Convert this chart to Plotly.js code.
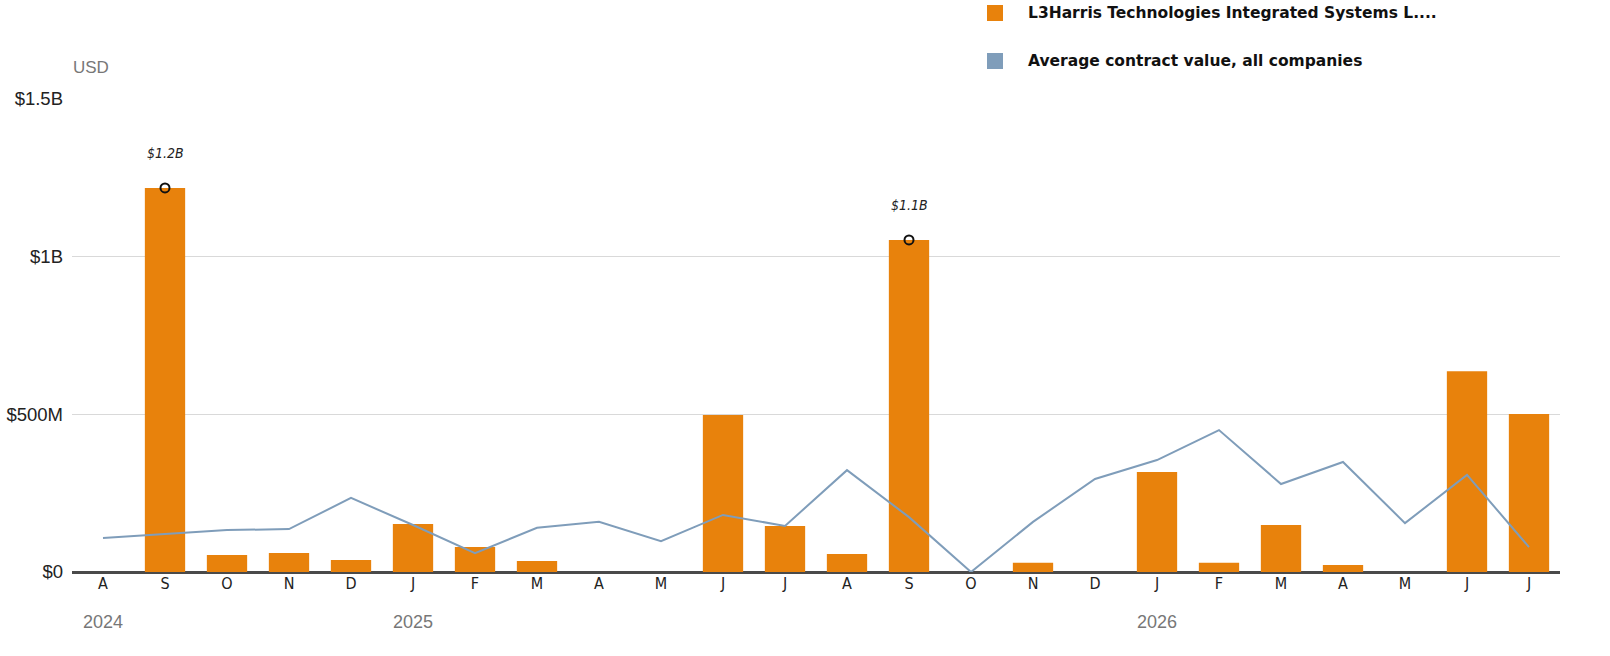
<!DOCTYPE html>
<html>
<head>
<meta charset="utf-8">
<script src="https://cdn.plot.ly/plotly-3.0.1.min.js"></script>
<style>
  body { margin: 0; background: #fff; }
  #plot { width: 1610px; height: 656px; }
</style>
</head>
<body>
<div id="plot"></div>
<script>
// months Aug 2024 .. Jul 2026
var months = ["2024-08","2024-09","2024-10","2024-11","2024-12","2025-01","2025-02","2025-03",
              "2025-04","2025-05","2025-06","2025-07","2025-08","2025-09","2025-10","2025-11",
              "2025-12","2026-01","2026-02","2026-03","2026-04","2026-05","2026-06","2026-07"];
var tickLabels = ["A","S","O","N","D","J","F","M","A","M","J","J","A","S","O","N","D","J","F","M","A","M","J","J"];

// L3Harris contract value per month (USD)
var l3harris = [0, 1218e6, 54e6, 60e6, 38e6, 152e6, 79e6, 35e6, 0, 0, 498e6, 146e6,
                57e6, 1053e6, 0, 29e6, 0, 317e6, 29e6, 149e6, 22e6, 0, 637e6, 501e6];

// average contract value, all companies (USD)
var average = [108e6, 120e6, 133e6, 136e6, 235e6, 149e6, 60e6, 140e6, 159e6, 98e6, 181e6, 146e6,
               323e6, 174e6, 0, 159e6, 295e6, 355e6, 450e6, 279e6, 349e6, 155e6, 308e6, 79e6];

// highlighted months and their labels
var highlightIdx = [1, 13];
var highlightText = ["$1.2B", "$1.1B"];

var yearLabels = ["2024", "2025", "2026"];
var yearIdx = [0, 5, 17];

var idx = months.map((m, i) => i);

var bars = {
  x: idx,
  y: l3harris,
  type: "bar",
  marker: {color: "#E8820C"},
  hoverinfo: "y",
  showlegend: false
};

var line = {
  x: idx,
  y: average,
  type: "scatter",
  mode: "lines",
  line: {color: "#7F9DBA", width: 2},
  showlegend: false
};

var dots = {
  x: highlightIdx,
  y: highlightIdx.map(i => l3harris[i]),
  type: "scatter",
  mode: "markers",
  marker: {symbol: "circle-open", size: 9, color: "#111", line: {width: 2, color: "#111"}},
  showlegend: false
};

var annotations = highlightIdx.map((i, k) => ({
  x: i, y: l3harris[i], xref: "x", yref: "y",
  text: "<i>" + highlightText[k] + "</i>",
  showarrow: false, yshift: 35,
  font: {family: "DejaVu Sans Condensed, sans-serif", size: 14, color: "#222"}
}));

yearIdx.forEach((i, k) => annotations.push({
  x: i, y: 0, xref: "x", yref: "paper",
  text: yearLabels[k], showarrow: false, yshift: -62,
  font: {family: "Liberation Sans, sans-serif", size: 18, color: "#777"}
}));

annotations.push({
  x: 0, y: 1, xref: "paper", yref: "paper", xanchor: "left", yanchor: "bottom",
  text: "USD", showarrow: false, yshift: 20, xshift: -1,
  font: {family: "Liberation Sans, sans-serif", size: 17, color: "#777"}
});

// legend built by hand (squares for both series)
var legendNames = ["L3Harris Technologies Integrated Systems L....", "Average contract value, all companies"];
var legendColors = ["#E8820C", "#7F9DBA"];
var shapes = [];
legendNames.forEach((name, k) => {
  var yc = 13 + k * 48;
  shapes.push({
    type: "rect", xref: "paper", yref: "paper",
    x0: (987 - 72) / 1488, x1: (1003 - 72) / 1488,
    y0: (572 - (yc - 8)) / 473, y1: (572 - (yc + 8)) / 473,
    fillcolor: legendColors[k], line: {width: 0}
  });
  annotations.push({
    x: (1026 - 72) / 1488, y: (572 - yc) / 473, xref: "paper", yref: "paper",
    xanchor: "left", yanchor: "middle", showarrow: false,
    text: "<b>" + name + "</b>",
    font: {family: "DejaVu Sans, sans-serif", size: 15.5, color: "#111"}
  });
});

var layout = {
  width: 1610, height: 656,
  margin: {l: 72, r: 50, t: 99, b: 84},
  paper_bgcolor: "#fff", plot_bgcolor: "#fff",
  bargap: 0.35,
  showlegend: false,
  xaxis: {
    range: [-0.5, 23.5],
    tickvals: idx, ticktext: tickLabels,
    showgrid: false, zeroline: false, showline: false, ticks: "",
    tickfont: {family: "DejaVu Sans Condensed, sans-serif", size: 16, color: "#222"},
    fixedrange: true
  },
  yaxis: {
    range: [0, 1.5e9],
    tickvals: [0, 5e8, 1e9, 1.5e9],
    ticktext: ["$0", "$500M", "$1B", "$1.5B"],
    showgrid: true, gridcolor: "#d9d9d9", gridwidth: 1,
    zeroline: true, zerolinecolor: "#4a4a4a", zerolinewidth: 3,
    showline: false, ticks: "",
    ticklabelstandoff: 8,
    tickfont: {family: "Liberation Sans, sans-serif", size: 18.5, color: "#222"},
    fixedrange: true
  },
  annotations: annotations,
  shapes: shapes
};

Plotly.newPlot("plot", [bars, line, dots], layout, {displayModeBar: false, staticPlot: true});
</script>
</body>
</html>
